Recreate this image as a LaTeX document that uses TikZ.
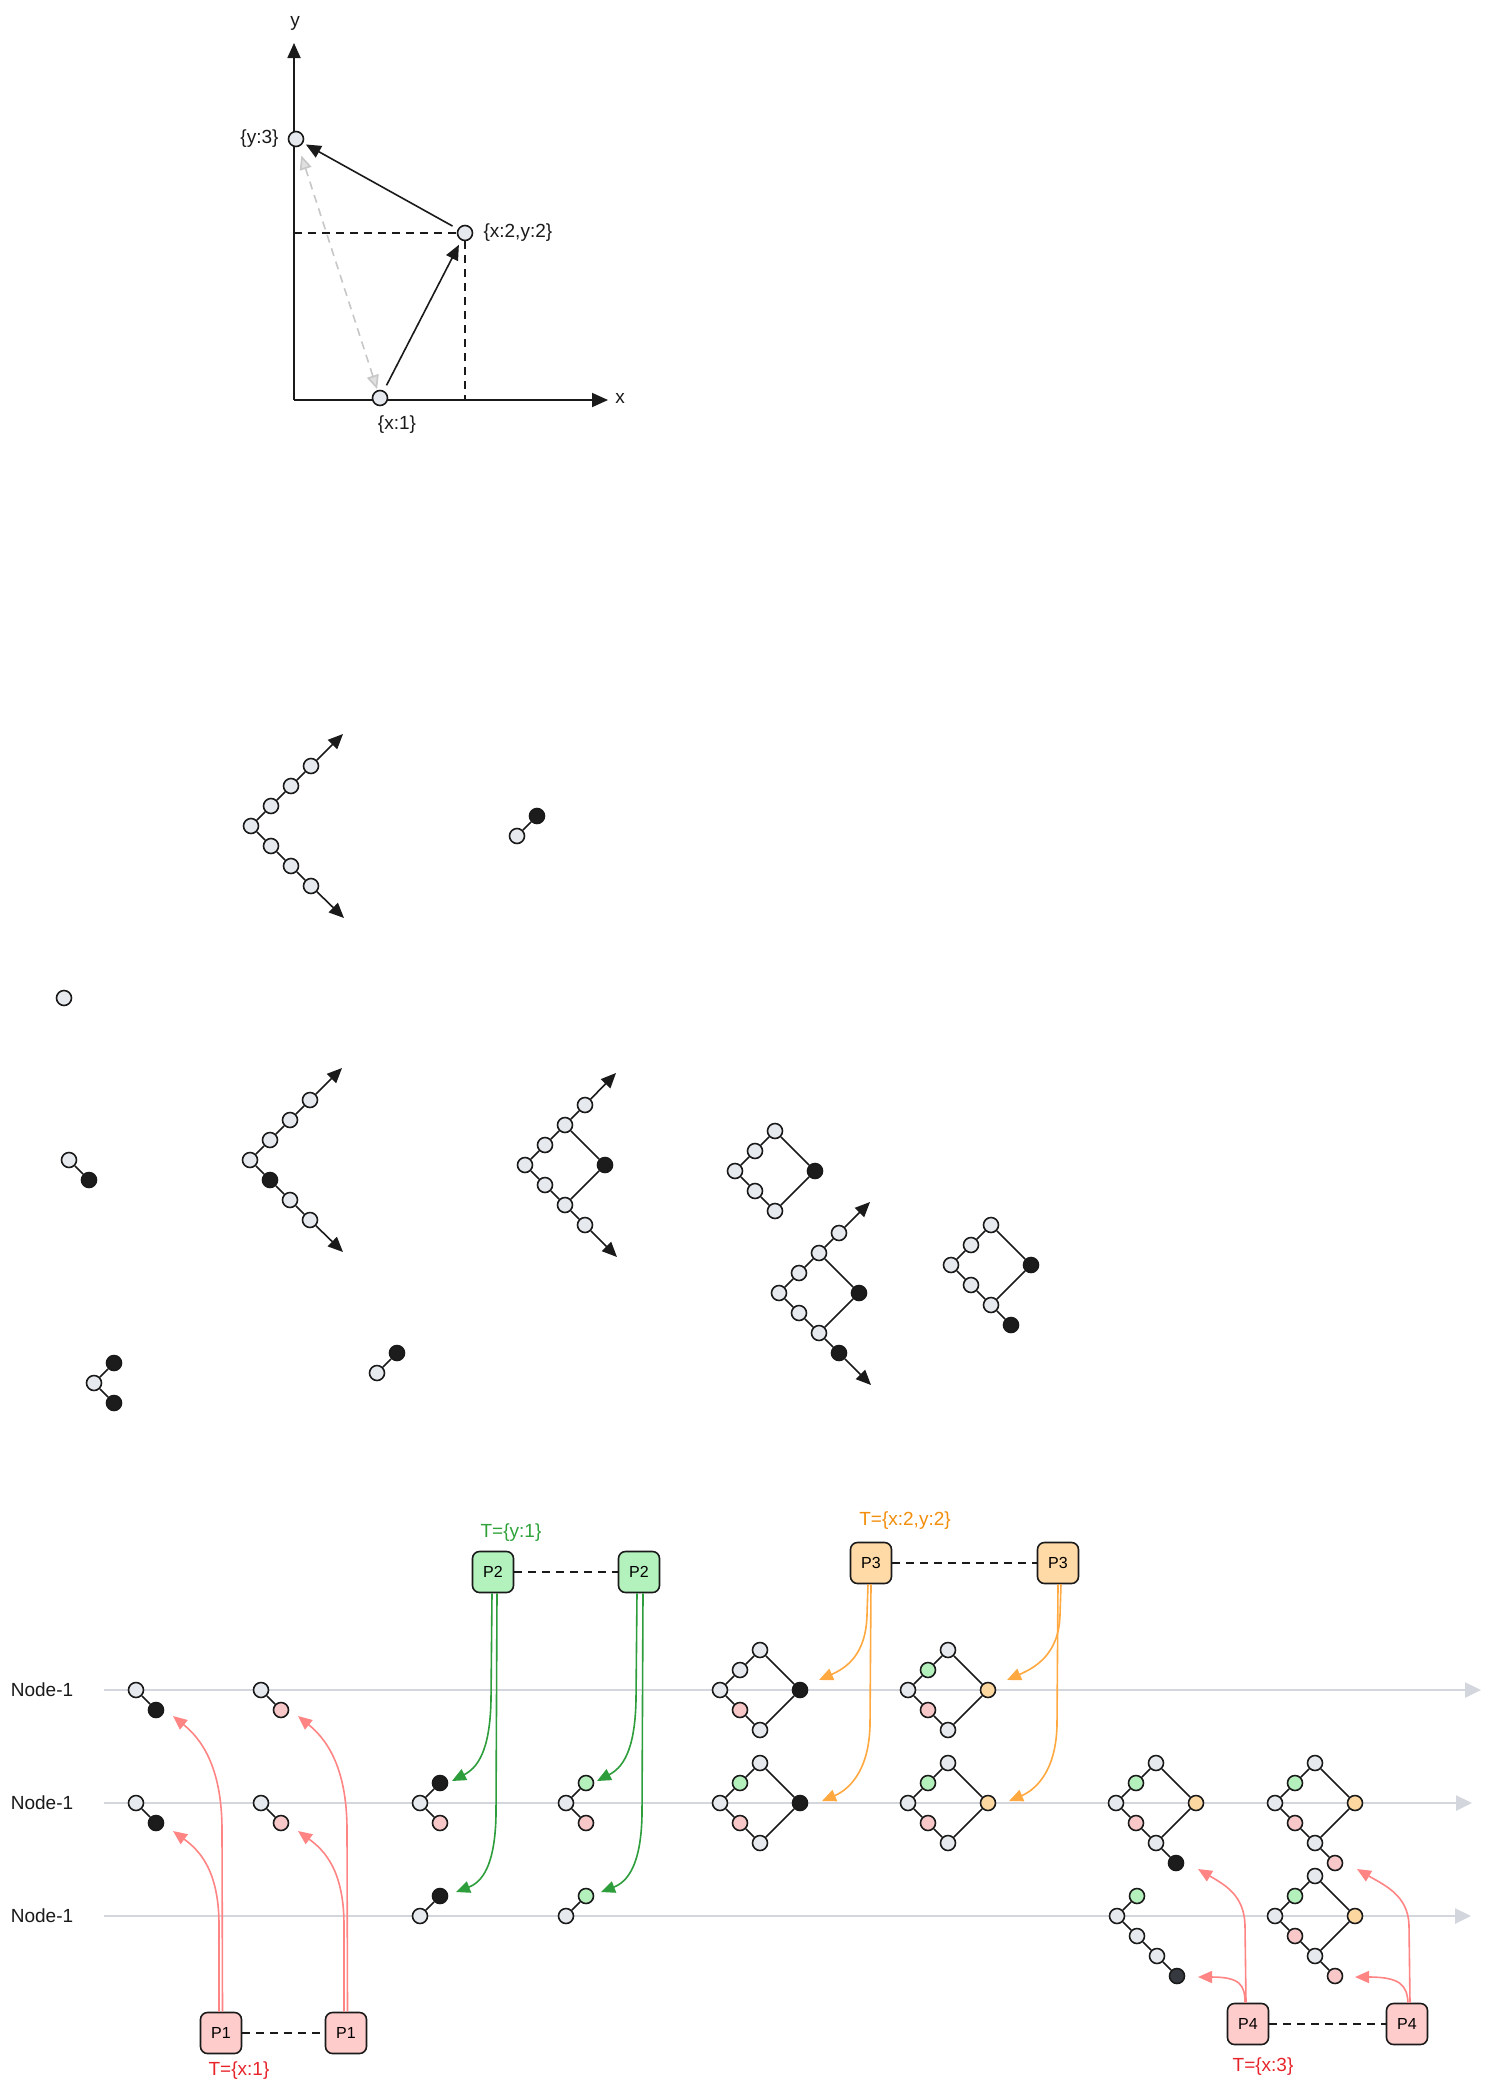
\documentclass[tikz,border=0pt]{standalone}
\usepackage{fontspec}
\setmainfont{Liberation Sans}
\usetikzlibrary{arrows.meta}
\definecolor{cgray}{HTML}{E6E9ED}
\definecolor{cblack}{HTML}{1C1C1C}
\definecolor{cdark}{HTML}{363A40}
\definecolor{cpink}{HTML}{F8C8C8}
\definecolor{cgreen}{HTML}{B3F0BC}
\definecolor{corange}{HTML}{FDD7A0}
\definecolor{tline}{HTML}{D3D7DD}
\definecolor{ared}{HTML}{FF8585}
\definecolor{agreen}{HTML}{2E9E3C}
\definecolor{aorange}{HTML}{FFA940}
\definecolor{lred}{HTML}{E8242B}
\definecolor{lgreen}{HTML}{2FA33A}
\definecolor{lorange}{HTML}{F28E0C}
\definecolor{boxpink}{HTML}{FFCCCC}
\definecolor{boxgreen}{HTML}{B3F2BD}
\definecolor{boxorange}{HTML}{FFD9A6}
\definecolor{ink}{HTML}{1A1A1A}
\tikzset{
  cn/.style={circle, draw=ink, line width=1.6pt, fill=cgray, minimum size=15pt, inner sep=0pt},
  ln/.style={line width=1.6pt, draw=ink},
  arr/.style={ln, -{Triangle[length=15pt,width=13pt]}},
  pbox/.style={draw=ink, line width=1.6pt, rounded corners=7pt, minimum width=41pt, minimum height=41pt, inner sep=0pt, font=\fontsize{16}{18}\selectfont},
  lab/.style={font=\fontsize{19}{22}\selectfont, text=ink},
  tl/.style={draw=tline, line width=2.5pt, -{Triangle[length=16pt,width=15pt]}},
  dsh/.style={draw=ink, line width=1.8pt, dash pattern=on 8pt off 6pt},
  redarr/.style={draw=ared, line width=1.6pt, -{Triangle[length=14pt,width=12pt]}},
  grnarr/.style={draw=agreen, line width=1.6pt, -{Triangle[length=14pt,width=12pt]}},
  orgarr/.style={draw=aorange, line width=1.6pt, -{Triangle[length=14pt,width=12pt]}},
}
\newcommand{\dmd}[6]{%
  \node[cn] (#1L) at (#2,#3) {};
  \node[cn,fill=#4] (#1UL) at ({#2+20},{#3-20}) {};
  \node[cn] (#1T) at ({#2+40},{#3-40}) {};
  \node[cn,fill=#6] (#1R) at ({#2+80},{#3}) {};
  \node[cn,fill=#5] (#1LL) at ({#2+20},{#3+20}) {};
  \node[cn] (#1B) at ({#2+40},{#3+40}) {};
  \draw[ln] (#1L)--(#1UL) (#1UL)--(#1T) (#1T)--(#1R) (#1L)--(#1LL) (#1LL)--(#1B) (#1B)--(#1R);
}
\begin{document}
\begin{tikzpicture}[x=1pt,y=-1pt]
\useasboundingbox[fill=white] (0,0) rectangle (1488,2091);

% ---------------- top chart ----------------
\coordinate (O) at (294,400);
\coordinate (yt) at (294,43);
\coordinate (xt) at (608,400);
\draw[line width=1.8pt, draw=ink, -{Triangle[length=15pt,width=13pt]}] (O) -- (yt);
\draw[line width=1.8pt, draw=ink, -{Triangle[length=16pt,width=14pt]}] (O) -- (xt);
\node[lab] (ylab) at (295,23) {y};
\node[lab] (xlab) at (620,398) {x};
\node[cn] (y3) at (296,139) {};
\node[cn] (xy2) at (465,233) {};
\node[cn] (x1) at (380,398) {};
\node[lab, anchor=east] (y3lab) at (282,139) {\{y:3\}};
\node[lab, anchor=west] (xy2lab) at (480,233) {\{x:2,y:2\}};
\node[lab] (x1lab) at (397,425) {\{x:1\}};
\draw[dsh] (O |- xy2) -- (xy2.west);
\draw[dsh] (xy2.south) -- (xy2 |- O);
\draw[draw=black!22, line width=1.6pt, dash pattern=on 8pt off 6pt,
  {Triangle[length=14pt,width=12pt,fill=black!12]}-{Triangle[length=14pt,width=12pt,fill=black!12]},
  shorten <=9pt, shorten >=1pt] (y3) -- (x1);
\draw[arr, shorten <=6pt, shorten >=5pt] (x1) -- (xy2);
\draw[arr, shorten <=6pt, shorten >=3pt] (xy2) -- (y3);

% ---------------- middle section ----------------
% V1
\node[cn] (v1a) at (251,826) {};
\node[cn] (v1u1) at (271,806) {};
\node[cn] (v1u2) at (291,786) {};
\node[cn] (v1u3) at (311,766) {};
\node[cn] (v1d1) at (271,846) {};
\node[cn] (v1d2) at (291,866) {};
\node[cn] (v1d3) at (311,886) {};
\coordinate (v1ut) at (343,734);
\coordinate (v1dt) at (344,918);
\draw[ln] (v1a)--(v1u1) (v1u1)--(v1u2) (v1u2)--(v1u3) (v1a)--(v1d1) (v1d1)--(v1d2) (v1d2)--(v1d3);
\draw[arr] (v1u3) -- (v1ut);
\draw[arr] (v1d3) -- (v1dt);
% pair M3
\node[cn] (m3a) at (517,836) {};
\node[cn, fill=cblack] (m3b) at (537,816) {};
\draw[ln] (m3a)--(m3b);
% single
\node[cn] (m0) at (64,998) {};
% pair M1
\node[cn] (m1a) at (69,1160) {};
\node[cn, fill=cblack] (m1b) at (89,1180) {};
\draw[ln] (m1a)--(m1b);
% V2
\node[cn] (v2a) at (250,1160) {};
\node[cn] (v2u1) at (270,1140) {};
\node[cn] (v2u2) at (290,1120) {};
\node[cn] (v2u3) at (310,1100) {};
\node[cn, fill=cblack] (v2d1) at (270,1180) {};
\node[cn] (v2d2) at (290,1200) {};
\node[cn] (v2d3) at (310,1220) {};
\coordinate (v2ut) at (342,1068);
\coordinate (v2dt) at (343,1252);
\draw[ln] (v2a)--(v2u1) (v2u1)--(v2u2) (v2u2)--(v2u3) (v2a)--(v2d1) (v2d1)--(v2d2) (v2d2)--(v2d3);
\draw[arr] (v2u3) -- (v2ut);
\draw[arr] (v2d3) -- (v2dt);
% V3 diamond with arrows
\dmd{v3}{525}{1165}{cgray}{cgray}{cblack}
\node[cn] (v3e1) at (585,1105) {};
\node[cn] (v3e2) at (585,1225) {};
\coordinate (v3ut) at (616,1073);
\coordinate (v3dt) at (617,1257);
\draw[ln] (v3T)--(v3e1) (v3B)--(v3e2);
\draw[arr] (v3e1) -- (v3ut);
\draw[arr] (v3e2) -- (v3dt);
% diamond A
\dmd{da}{735}{1171}{cgray}{cgray}{cblack}
% diamond B
\dmd{db}{779}{1293}{cgray}{cgray}{cblack}
\node[cn] (dbe1) at (839,1233) {};
\node[cn, fill=cblack] (dbe2) at (839,1353) {};
\coordinate (dbut) at (870,1202);
\coordinate (dbdt) at (871,1385);
\draw[ln] (dbT)--(dbe1) (dbB)--(dbe2);
\draw[arr] (dbe1) -- (dbut);
\draw[arr] (dbe2) -- (dbdt);
% diamond C
\dmd{dc}{951}{1265}{cgray}{cgray}{cblack}
\node[cn, fill=cblack] (dce) at (1011,1325) {};
\draw[ln] (dcB)--(dce);
% triple M2
\node[cn] (m2a) at (94,1383) {};
\node[cn, fill=cblack] (m2b) at (114,1363) {};
\node[cn, fill=cblack] (m2c) at (114,1403) {};
\draw[ln] (m2a)--(m2b) (m2a)--(m2c);
% pair M4
\node[cn] (m4a) at (377,1373) {};
\node[cn, fill=cblack] (m4b) at (397,1353) {};
\draw[ln] (m4a)--(m4b);

% ---------------- bottom section ----------------
\coordinate (l1s) at (104,1690); \coordinate (l1e) at (1481,1690);
\coordinate (l2s) at (104,1803); \coordinate (l2e) at (1472,1803);
\coordinate (l3s) at (104,1916); \coordinate (l3e) at (1471,1916);
\draw[tl] (l1s) -- (l1e);
\draw[tl] (l2s) -- (l2e);
\draw[tl] (l3s) -- (l3e);
\node[lab] (n1) at (42,1690) {Node-1};
\node[lab] (n2) at (42,1803) {Node-1};
\node[lab] (n3) at (42,1916) {Node-1};

% row 1
\node[cn] (r1a1) at (136,1690) {};
\node[cn, fill=cblack] (r1a2) at (156,1710) {};
\draw[ln] (r1a1)--(r1a2);
\node[cn] (r1b1) at (261,1690) {};
\node[cn, fill=cpink] (r1b2) at (281,1710) {};
\draw[ln] (r1b1)--(r1b2);
\dmd{dd1}{720}{1690}{cgray}{cpink}{cblack}
\dmd{dd2}{908}{1690}{cgreen}{cpink}{corange}
% row 2
\node[cn] (r2a1) at (136,1803) {};
\node[cn, fill=cblack] (r2a2) at (156,1823) {};
\draw[ln] (r2a1)--(r2a2);
\node[cn] (r2b1) at (261,1803) {};
\node[cn, fill=cpink] (r2b2) at (281,1823) {};
\draw[ln] (r2b1)--(r2b2);
\node[cn] (r2c1) at (420,1803) {};
\node[cn, fill=cblack] (r2c2) at (440,1783) {};
\node[cn, fill=cpink] (r2c3) at (440,1823) {};
\draw[ln] (r2c1)--(r2c2) (r2c1)--(r2c3);
\node[cn] (r2d1) at (566,1803) {};
\node[cn, fill=cgreen] (r2d2) at (586,1783) {};
\node[cn, fill=cpink] (r2d3) at (586,1823) {};
\draw[ln] (r2d1)--(r2d2) (r2d1)--(r2d3);
\dmd{dd3}{720}{1803}{cgreen}{cpink}{cblack}
\dmd{dd4}{908}{1803}{cgreen}{cpink}{corange}
\dmd{dd5}{1116}{1803}{cgreen}{cpink}{corange}
\node[cn, fill=cblack] (dd5e) at (1176,1863) {};
\draw[ln] (dd5B)--(dd5e);
\dmd{dd6}{1275}{1803}{cgreen}{cpink}{corange}
\node[cn, fill=cpink] (dd6e) at (1335,1863) {};
\draw[ln] (dd6B)--(dd6e);
% row 3
\node[cn] (r3a1) at (420,1916) {};
\node[cn, fill=cblack] (r3a2) at (440,1896) {};
\draw[ln] (r3a1)--(r3a2);
\node[cn] (r3b1) at (566,1916) {};
\node[cn, fill=cgreen] (r3b2) at (586,1896) {};
\draw[ln] (r3b1)--(r3b2);
\node[cn] (ch1) at (1117,1916) {};
\node[cn, fill=cgreen] (ch2) at (1137,1896) {};
\node[cn] (ch3) at (1137,1936) {};
\node[cn] (ch4) at (1157,1956) {};
\node[cn, fill=cdark] (ch5) at (1177,1976) {};
\draw[ln] (ch1)--(ch2) (ch1)--(ch3) (ch3)--(ch4) (ch4)--(ch5);
\dmd{dd7}{1275}{1916}{cgreen}{cpink}{corange}
\node[cn, fill=cpink] (dd7e) at (1335,1976) {};
\draw[ln] (dd7B)--(dd7e);

% boxes
\node[pbox, fill=boxpink] (P1a) at (221,2033) {P1};
\node[pbox, fill=boxpink] (P1b) at (346,2033) {P1};
\node[pbox, fill=boxgreen] (P2a) at (493,1572) {P2};
\node[pbox, fill=boxgreen] (P2b) at (639,1572) {P2};
\node[pbox, fill=boxorange] (P3a) at (871,1563) {P3};
\node[pbox, fill=boxorange] (P3b) at (1058,1563) {P3};
\node[pbox, fill=boxpink] (P4a) at (1248,2024) {P4};
\node[pbox, fill=boxpink] (P4b) at (1407,2024) {P4};
\draw[dsh] (P1a) -- (P1b);
\draw[dsh] (P2a) -- (P2b);
\draw[dsh] (P3a) -- (P3b);
\draw[dsh] (P4a) -- (P4b);
\node[lab, text=lred] (T1) at (239,2071) {T=\{x:1\}};
\node[lab, text=lgreen] (T2) at (511,1533) {T=\{y:1\}};
\node[lab, text=lorange] (T3) at (905,1521) {T=\{x:2,y:2\}};
\node[lab, text=lred] (T4) at (1263,2067) {T=\{x:3\}};

% P1 arrows
\coordinate (ta1) at (173,1716); \coordinate (ta2) at (173,1831);
\coordinate (tb1) at (298,1716); \coordinate (tb2) at (298,1831);
\draw[redarr] ([xshift=1.5pt]P1a.north) -- (222,1830) .. controls (222,1765) and (200,1738) .. (ta1);
\draw[redarr] ([xshift=-2pt]P1a.north) -- (219,1925) .. controls (219,1870) and (199,1850) .. (ta2);
\draw[redarr] ([xshift=1.5pt]P1b.north) -- (347,1830) .. controls (347,1765) and (325,1738) .. (tb1);
\draw[redarr] ([xshift=-2pt]P1b.north) -- (344,1925) .. controls (344,1870) and (324,1850) .. (tb2);
% P2 arrows
\coordinate (tc1) at (452,1781); \coordinate (tc2) at (456,1892);
\coordinate (td1) at (597,1781); \coordinate (td2) at (601,1892);
\draw[grnarr] ([xshift=-1pt]P2a.south) -- (491,1700) .. controls (490,1752) and (477,1768) .. (tc1);
\draw[grnarr] ([xshift=4pt]P2a.south) -- (496,1815) .. controls (495,1866) and (482,1882) .. (tc2);
\draw[grnarr] ([xshift=-2pt]P2b.south) -- (636,1700) .. controls (635,1752) and (622,1768) .. (td1);
\draw[grnarr] ([xshift=4pt]P2b.south) -- (642,1815) .. controls (641,1866) and (627,1882) .. (td2);
% P3 arrows
\coordinate (te1) at (819,1680); \coordinate (te2) at (822,1801);
\coordinate (tf1) at (1007,1680); \coordinate (tf2) at (1009,1801);
\draw[orgarr] ([xshift=-3pt]P3a.south) -- (867,1615) .. controls (866,1655) and (846,1668) .. (te1);
\draw[orgarr] (P3a.south) -- (870,1725) .. controls (869,1772) and (848,1790) .. (te2);
\draw[orgarr] ([xshift=3pt]P3b.south) -- (1060,1615) .. controls (1059,1655) and (1034,1668) .. (tf1);
\draw[orgarr] (P3b.south) -- (1057,1725) .. controls (1056,1772) and (1035,1790) .. (tf2);
% P4 arrows
\coordinate (tg1) at (1198,1869); \coordinate (tg2) at (1198,1977);
\coordinate (th1) at (1357,1869); \coordinate (th2) at (1355,1977);
\draw[redarr] ([xshift=-2pt]P4a.north) -- (1245,1925) .. controls (1244,1895) and (1225,1885) .. (tg1);
\draw[redarr] ([xshift=-3pt]P4a.north) .. controls (1245,1985) and (1240,1977) .. (tg2);
\draw[redarr] ([xshift=3pt]P4b.north) -- (1409,1925) .. controls (1408,1895) and (1384,1885) .. (th1);
\draw[redarr] ([xshift=1pt]P4b.north) .. controls (1407,1985) and (1400,1977) .. (th2);
\end{tikzpicture}
\end{document}
